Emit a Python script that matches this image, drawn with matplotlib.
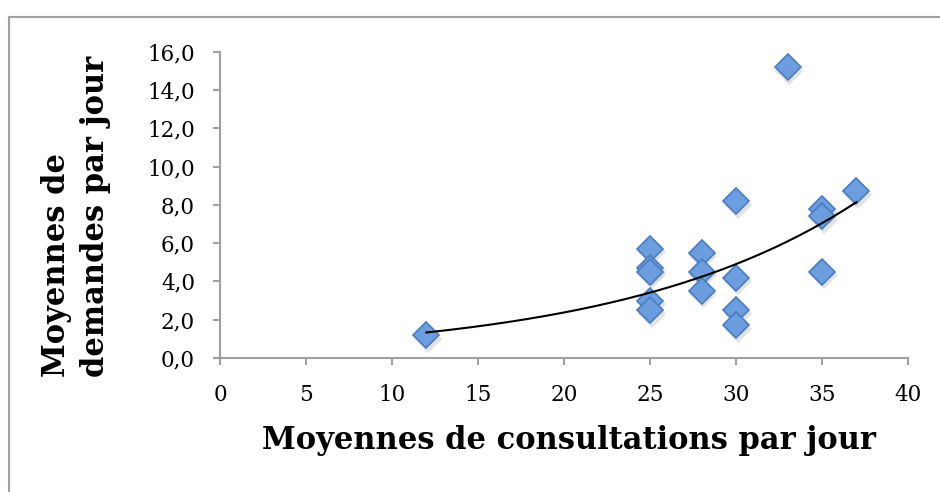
import numpy as np
import matplotlib
matplotlib.use("Agg")
import matplotlib.pyplot as plt
from matplotlib.transforms import offset_copy
from matplotlib.lines import Line2D
from matplotlib.ticker import FuncFormatter

# Data
consultations = [12, 25, 25, 25, 25, 25, 28, 28, 28, 30, 30, 30, 30, 33, 35, 35, 35, 37]
demandes = [1.2, 5.7, 4.7, 4.5, 3.0, 2.5, 5.5, 4.5, 3.5, 8.2, 4.2, 2.5, 1.7, 15.2, 7.8, 7.4, 4.5, 8.7]
x_ticks = [0, 5, 10, 15, 20, 25, 30, 35, 40]
y_ticks = [0, 2, 4, 6, 8, 10, 12, 14, 16]
x_label = "Moyennes de consultations par jour"
y_label = "Moyennes de\ndemandes par jour"

x = np.array(consultations, dtype=float)
y = np.array(demandes, dtype=float)

fig = plt.figure(figsize=(9.4, 4.92), dpi=100)
ax = fig.add_axes([0.234, 0.2724, 0.732, 0.6225])

# exponential trendline (least squares on log y)
b, ln_a = np.polyfit(x, np.log(y), 1)
xt = np.linspace(x.min(), x.max(), 200)
yt = np.exp(ln_a) * np.exp(b * xt)

# marker shadow
shadow = offset_copy(ax.transData, fig=fig, x=1.5, y=-3.5, units='dots')
ax.plot(x, y, linestyle='none', marker='D', markersize=14, color='#7f7f7f',
        alpha=0.22, markeredgewidth=0, transform=shadow, zorder=2, clip_on=False)
ax.plot(x, y, linestyle='none', marker='D', markersize=13,
        markerfacecolor='#6b9ddf', markeredgecolor='#4a7cc0', markeredgewidth=1.2,
        zorder=3, clip_on=False)
ax.plot(xt, yt, color='black', linewidth=1.5, zorder=4)

ax.set_xlim(0, 40)
ax.set_ylim(0, 16)
ax.set_xticks(x_ticks)
ax.set_yticks(y_ticks)
ax.yaxis.set_major_formatter(FuncFormatter(lambda v, p: f"{v:.1f}".replace('.', ',')))

for s in ['top', 'right']:
    ax.spines[s].set_visible(False)
for s in ['left', 'bottom']:
    ax.spines[s].set_color('#a0a0a0')
    ax.spines[s].set_linewidth(1.5)

ax.tick_params(axis='both', colors='#a0a0a0', width=1.5, length=5, labelcolor='black')
ax.tick_params(axis='y', pad=13)
ax.tick_params(axis='x', pad=14)
for lab in ax.get_xticklabels() + ax.get_yticklabels():
    lab.set_fontfamily('DejaVu Serif')
    lab.set_fontsize(15.5)

fig.text((262 + 877) / 2 / 940, 1 - 441 / 492, x_label, ha='center', va='center',
         fontsize=22, fontweight='bold', family='DejaVu Serif')
fig.text(76 / 940, 1 - 377 / 492, y_label, rotation=90, ha='center', va='bottom',
         multialignment='left', fontsize=22, fontweight='bold', family='DejaVu Serif',
         linespacing=1.3)

# outer chart border (top and left visible)
top_y = 1 - 16.5 / 492
left_x = 8.5 / 940
fig.add_artist(Line2D([left_x, 1.0], [top_y, top_y], color='#a0a0a0', linewidth=1.5,
                      transform=fig.transFigure))
fig.add_artist(Line2D([left_x, left_x], [0, top_y], color='#a0a0a0', linewidth=1.5,
                      transform=fig.transFigure))

fig.savefig('out.png', dpi=100)
